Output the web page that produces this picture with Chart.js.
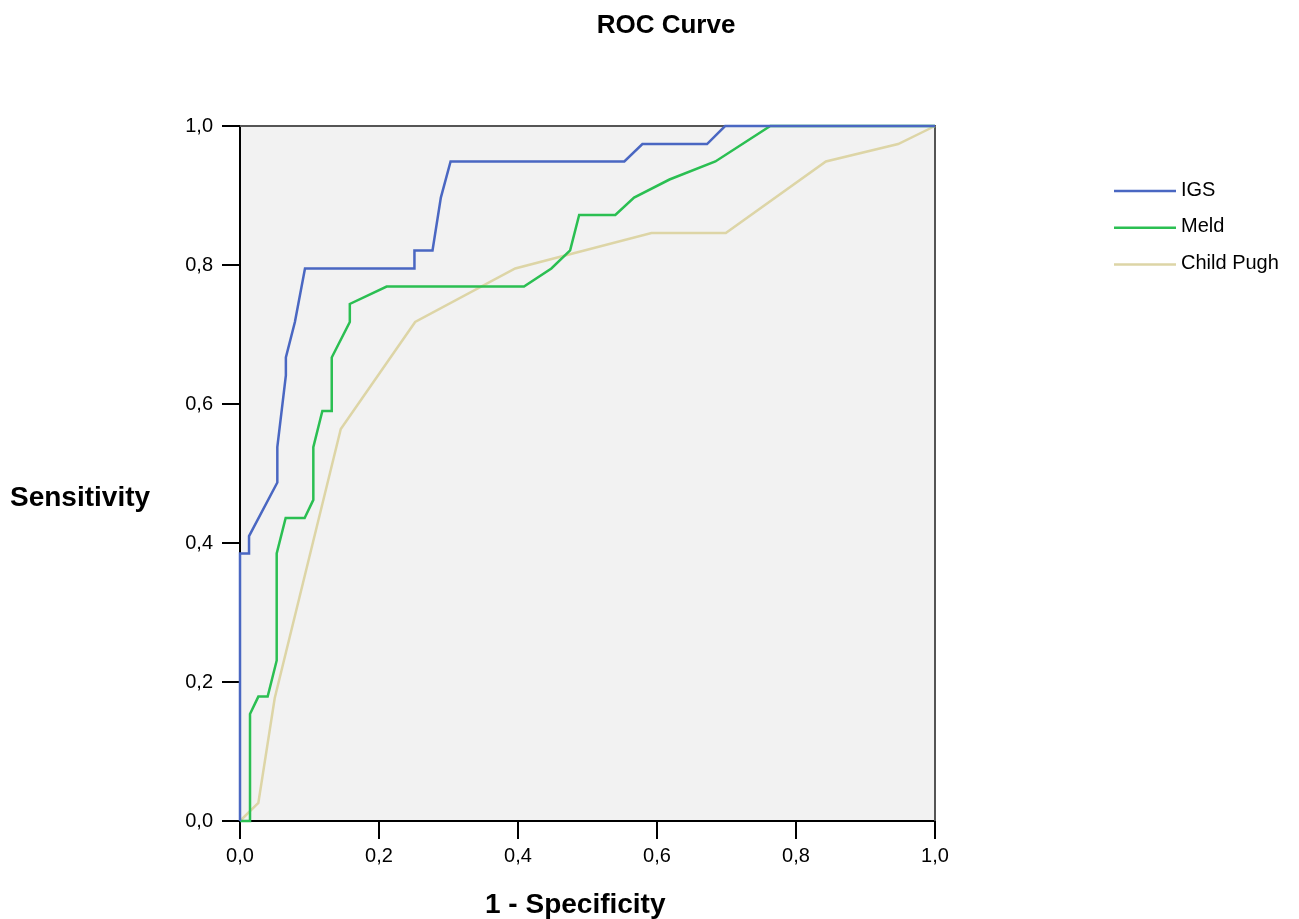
<!DOCTYPE html>
<html>
<head>
<meta charset="utf-8">
<script src="https://cdn.jsdelivr.net/npm/chart.js@4"></script>
<style>
    body { margin: 0; background: #fff; }
</style>
</head>
<body>
<canvas id="rocChart" width="1299" height="919"></canvas>
<script>
// courbes ROC (1 - spécificité, sensibilité)
const igsX = [0, 0, 0.013, 0.013, 0.0537, 0.0537, 0.066, 0.066, 0.079, 0.0935, 0.251, 0.251, 0.277, 0.289, 0.303, 0.553, 0.579, 0.672, 0.698, 1];
const igsY = [0, 0.385, 0.385, 0.41, 0.487, 0.538, 0.641, 0.667, 0.718, 0.795, 0.795, 0.821, 0.821, 0.897, 0.949, 0.949, 0.974, 0.974, 1, 1];

const meldX = [0, 0.0144, 0.0144, 0.0264, 0.0398, 0.0528, 0.0528, 0.0657, 0.093, 0.1055, 0.1055, 0.1185, 0.132, 0.132, 0.158, 0.158, 0.211, 0.4086, 0.448, 0.475, 0.488, 0.540, 0.567, 0.618, 0.684, 0.763, 1];
const meldY = [0, 0, 0.154, 0.179, 0.179, 0.231, 0.385, 0.436, 0.436, 0.462, 0.538, 0.590, 0.590, 0.667, 0.718, 0.744, 0.769, 0.769, 0.795, 0.821, 0.872, 0.872, 0.897, 0.923, 0.949, 1, 1];

const childX = [0, 0.0264, 0.050, 0.145, 0.252, 0.396, 0.592, 0.699, 0.843, 0.947, 1];
const childY = [0, 0.026, 0.177, 0.564, 0.718, 0.795, 0.846, 0.846, 0.949, 0.974, 1];

const seriesNames = ['IGS', 'Meld', 'Child Pugh'];
const seriesColors = ['#4a67c2', '#2bbf52', '#ddd5a6'];
const tickValues = [0, 0.2, 0.4, 0.6, 0.8, 1.0];

const font = 'Arial, "Liberation Sans", sans-serif';

function toPoints(xs, ys) {
    let pts = [];
    for (let i = 0; i < xs.length; i++) {
        pts.push({x: xs[i], y: ys[i]});
    }
    return pts;
}

function formatTick(v) {
    return v.toFixed(1).replace('.', ',');
}

// fond gris, cadre haut/droite, titres et légende
const decorPlugin = {
    id: 'decor',
    beforeDraw(chart) {
        const ctx = chart.ctx;
        const a = chart.chartArea;
        ctx.save();
        ctx.fillStyle = '#f2f2f2';
        ctx.fillRect(a.left, a.top, a.right - a.left, a.bottom - a.top);
        ctx.restore();
    },
    beforeDatasetsDraw(chart) {
        const ctx = chart.ctx;
        const a = chart.chartArea;
        ctx.save();
        ctx.strokeStyle = '#555';
        ctx.lineWidth = 2;
        ctx.beginPath();
        ctx.moveTo(a.left, a.top);
        ctx.lineTo(a.right, a.top);
        ctx.lineTo(a.right, a.bottom);
        ctx.stroke();
        ctx.restore();
    },
    afterDraw(chart) {
        const ctx = chart.ctx;
        ctx.save();
        ctx.fillStyle = '#000';
        ctx.textBaseline = 'alphabetic';

        ctx.font = 'bold 26px ' + font;
        ctx.textAlign = 'center';
        ctx.fillText('ROC Curve', 666, 33);

        ctx.font = 'bold 28px ' + font;
        ctx.textAlign = 'left';
        ctx.fillText('Sensitivity', 10, 506);
        ctx.fillText('1 - Specificity', 485, 913);

        // légende
        ctx.font = '20px ' + font;
        chart.data.datasets.forEach((ds, i) => {
            let y = 190 + i * 36.7;
            ctx.strokeStyle = ds.borderColor;
            ctx.lineWidth = 2.5;
            ctx.beginPath();
            ctx.moveTo(1114, y + 1);
            ctx.lineTo(1176, y + 1);
            ctx.stroke();
            ctx.textBaseline = 'middle';
            ctx.fillText(ds.label, 1181, y);
        });
        ctx.restore();
    }
};

const allX = [igsX, meldX, childX];
const allY = [igsY, meldY, childY];

let datasets = [];
for (let s = 0; s < seriesNames.length; s++) {
    datasets.push({
        label: seriesNames[s],
        data: toPoints(allX[s], allY[s]),
        borderColor: seriesColors[s],
        backgroundColor: seriesColors[s],
        borderWidth: 2.5,
        pointRadius: 0,
        tension: 0,
        fill: false,
        clip: 6
    });
}

const config = {
    type: 'line',
    data: { datasets: datasets },
    options: {
        responsive: false,
        animation: false,
        layout: { padding: { left: 0, top: 126, right: 364, bottom: 0 } },
        plugins: {
            legend: { display: false },
            title: { display: false },
            tooltip: { enabled: false }
        },
        scales: {
            x: {
                type: 'linear',
                min: 0,
                max: 1,
                afterBuildTicks: (scale) => { scale.ticks = tickValues.map(v => ({value: v})); },
                afterFit: (scale) => { scale.height = 98; },
                grid: { drawOnChartArea: false, color: '#000', lineWidth: 2, tickLength: 18 },
                border: { color: '#000', width: 2 },
                ticks: {
                    color: '#000',
                    font: { family: font, size: 20 },
                    padding: 5,
                    maxRotation: 0,
                    callback: (v) => formatTick(v)
                }
            },
            y: {
                type: 'linear',
                min: 0,
                max: 1,
                afterBuildTicks: (scale) => { scale.ticks = tickValues.map(v => ({value: v})); },
                afterFit: (scale) => { scale.width = 240; },
                grid: { drawOnChartArea: false, color: '#000', lineWidth: 2, tickLength: 18 },
                border: { color: '#000', width: 2 },
                ticks: {
                    color: '#000',
                    font: { family: font, size: 20 },
                    padding: 9,
                    callback: (v) => formatTick(v)
                }
            }
        }
    },
    plugins: [decorPlugin]
};

new Chart(document.getElementById('rocChart'), config);
</script>
</body>
</html>
